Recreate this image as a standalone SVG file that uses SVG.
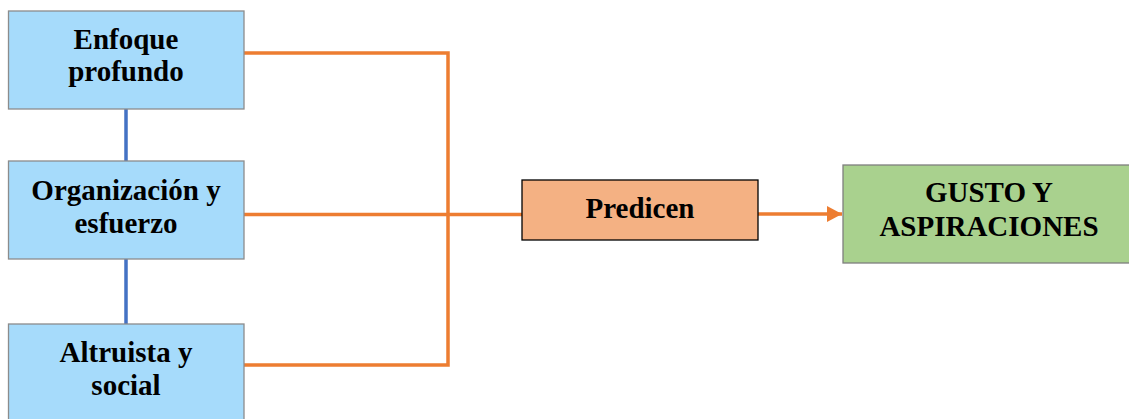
<svg xmlns="http://www.w3.org/2000/svg" width="1129" height="419" viewBox="0 0 1129 419">
<defs>
<style>
.src{fill:#A6DBFB;stroke:#8C8C8C;stroke-width:1.3}
.t{font-family:"Liberation Serif","Times New Roman",serif;font-weight:bold;font-size:29px;fill:#000;text-anchor:middle}
.o{fill:none;stroke:#ED7D31;stroke-width:3.5}
.b{fill:none;stroke:#4472C4;stroke-width:3.5}
</style>
<marker id="ah" markerWidth="15" markerHeight="16" refX="15" refY="8" orient="auto" markerUnits="userSpaceOnUse">
<path d="M0,0 L15,8 L0,16 Z" fill="#ED7D31"/>
</marker>
</defs>
<rect width="1129" height="419" fill="#fff"/>
<g id="connectors">
<path class="b" d="M126,109 V161 M126,259 V324"/>
<path class="o" d="M244,53 H448 V365 H244"/>
<path class="o" d="M244,214.5 H522"/>
<path class="o" d="M758,214 H842" marker-end="url(#ah)"/>
</g>
<g id="n1">
<rect class="src" x="8.5" y="11" width="235.5" height="98"/>
<text class="t" x="126" y="49">Enfoque</text>
<text class="t" x="126" y="81">profundo</text>
</g>
<g id="n2">
<rect class="src" x="8.5" y="161" width="235.5" height="98"/>
<text class="t" x="126" y="200">Organización y</text>
<text class="t" x="126" y="233">esfuerzo</text>
</g>
<g id="n3">
<rect class="src" x="8.5" y="324" width="235.5" height="110"/>
<text class="t" x="126" y="362">Altruista y</text>
<text class="t" x="126" y="395">social</text>
</g>
<g id="n4">
<rect x="522" y="180" width="236" height="60" fill="#F4B183" stroke="#000" stroke-width="1.3"/>
<text class="t" x="640" y="218">Predicen</text>
</g>
<g id="n5">
<rect x="843" y="165" width="300" height="98" fill="#A9D18E" stroke="#7F7F7F" stroke-width="1.3"/>
<text class="t" x="989" y="202">GUSTO Y</text>
<text class="t" x="989" y="236">ASPIRACIONES</text>
</g>
</svg>
